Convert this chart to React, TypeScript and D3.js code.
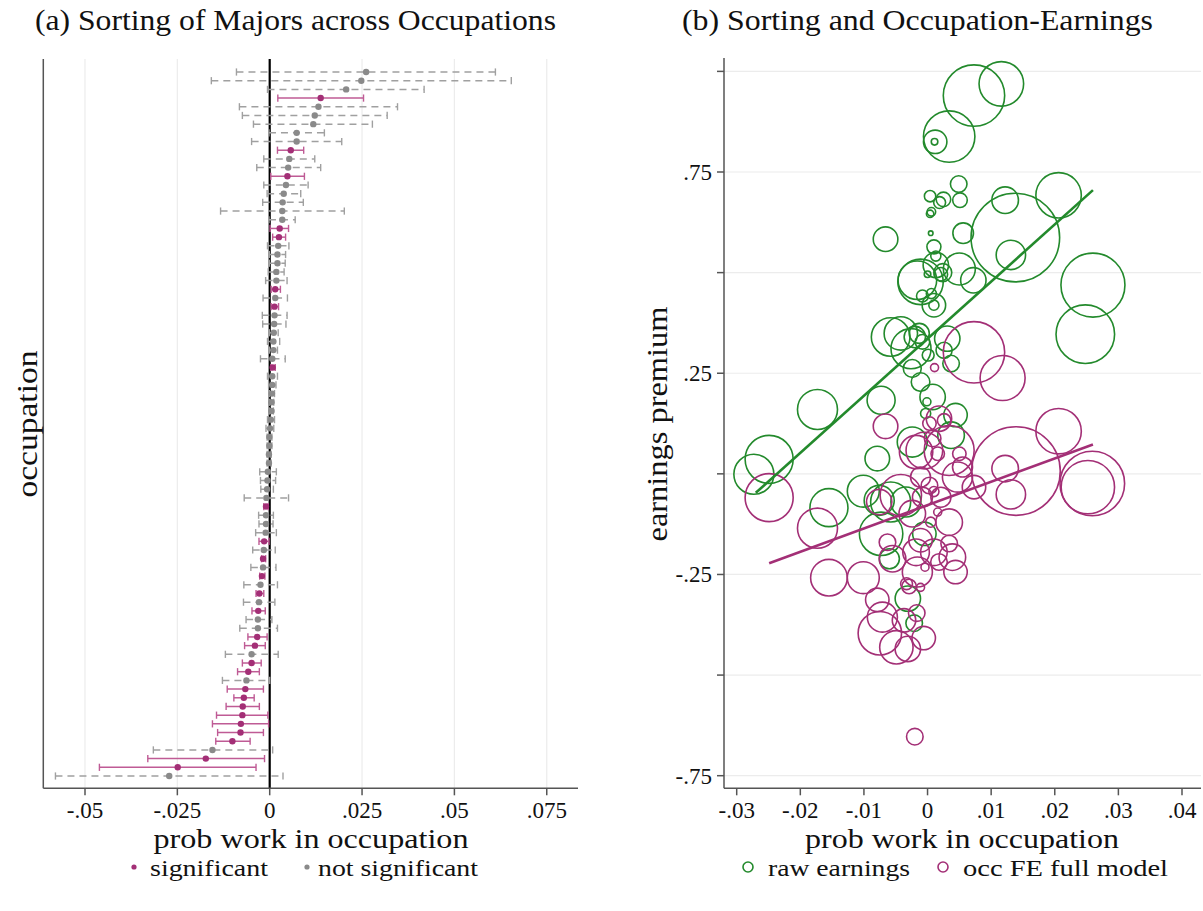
import React from "react";
import * as d3 from "d3";

// ---------- Panel (a) data: occupation coefficients, sorted ----------
const coef = [
  0.0261, 0.0248, 0.0207, 0.0138, 0.0132, 0.0122, 0.0118, 0.0073, 0.0073, 0.0057,
  0.0053, 0.0050, 0.0048, 0.0044, 0.0038, 0.0035, 0.0034, 0.0034, 0.0027, 0.0025,
  0.0023, 0.0021, 0.0021, 0.0018, 0.0018, 0.0015, 0.0015, 0.0013, 0.0013, 0.0012,
  0.0011, 0.0010, 0.0010, 0.0007, 0.0008, 0.0007, 0.0007, 0.0006, 0.0005, 0.0005,
  0.0003, 0.0001, -0.0001, -0.0001, -0.0002, -0.0002, -0.0005, -0.0006, -0.0007, -0.0009,
  -0.0010, -0.0010, -0.0010, -0.0011, -0.0015, -0.0016, -0.0018, -0.0018, -0.0021, -0.0025,
  -0.0028, -0.0029, -0.0031, -0.0032, -0.0032, -0.0034, -0.0040, -0.0049, -0.0049, -0.0058,
  -0.0063, -0.0066, -0.0070, -0.0073, -0.0074, -0.0078, -0.0079, -0.0101, -0.0155, -0.0173,
  -0.0249, -0.0272,
];
const ciLow = [
  -0.0090, -0.0158, -0.0006, 0.0022, -0.0082, -0.0074, -0.0044, -0.0002, -0.0049, 0.0021,
  -0.0016, -0.0035, 0.0003, -0.0016, -0.0007, -0.0019, -0.0133, -0.0002, 0.0001, 0.0008,
  -0.0006, -0.0001, -0.0001, -0.0004, -0.0011, 0.0004, -0.0018, 0.0004, -0.0020, -0.0019,
  -0.0001, -0.0006, -0.0001, -0.0025, 0.0003, -0.0006, -0.0003, -0.0001, -0.0001, -0.0001,
  -0.0006, -0.0010, -0.0007, -0.0007, -0.0007, -0.0007, -0.0027, -0.0025, -0.0024, -0.0069,
  -0.0016, -0.0030, -0.0029, -0.0038, -0.0029, -0.0046, -0.0022, -0.0051, -0.0027, -0.0070,
  -0.0037, -0.0071, -0.0048, -0.0064, -0.0081, -0.0059, -0.0068, -0.0120, -0.0074, -0.0087,
  -0.0128, -0.0115, -0.0097, -0.0118, -0.0144, -0.0155, -0.0141, -0.0146, -0.0315, -0.0330,
  -0.0461, -0.0580,
];
const ciHigh = [
  0.0611, 0.0654, 0.0418, 0.0254, 0.0346, 0.0318, 0.0278, 0.0148, 0.0195, 0.0092,
  0.0122, 0.0138, 0.0094, 0.0104, 0.0084, 0.0091, 0.0202, 0.0069, 0.0051, 0.0043,
  0.0052, 0.0043, 0.0042, 0.0039, 0.0047, 0.0029, 0.0048, 0.0024, 0.0047, 0.0044,
  0.0023, 0.0027, 0.0021, 0.0042, 0.0015, 0.0021, 0.0017, 0.0013, 0.0011, 0.0010,
  0.0013, 0.0011, 0.0006, 0.0006, 0.0004, 0.0004, 0.0018, 0.0016, 0.0010, 0.0051,
  -0.0004, 0.0010, 0.0009, 0.0018, -0.0002, 0.0015, -0.0011, 0.0017, -0.0013, 0.0021,
  -0.0016, 0.0014, -0.0012, 0.0006, 0.0021, -0.0007, -0.0012, 0.0023, -0.0023, -0.0028,
  0.0000, -0.0017, -0.0042, -0.0028, -0.0005, -0.0003, -0.0017, -0.0053, 0.0008, -0.0014,
  -0.0037, 0.0036,
];
const significant = ciLow.map((lo, i) => lo > 0 || ciHigh[i] < 0);

const ticksA = [-0.05, -0.025, 0, 0.025, 0.05, 0.075];

// ---------- Panel (b) data: [prob work in occupation, earnings premium, occupation weight] ----------
const rawEarnings: [number, number, number][] = [
  [0.0260, 0.469, 52.2], [0.0248, 0.347, 43.7], [0.0206, 0.692, 26.3], [0.0138, 0.587, 100],
  [0.0131, 0.544, 11.0], [0.0122, 0.680, 9.0], [0.0116, 0.969, 25.3], [0.0073, 0.940, 48.0],
  [0.0072, 0.481, 8.2], [0.0056, 0.598, 5.4], [0.0051, 0.680, 2.7], [0.0050, 0.509, 13.0],
  [0.0049, 0.720, 3.5], [0.0044, 0.146, 7.0], [0.0037, 0.096, 9.0], [0.0037, 0.274, 3.5],
  [0.0034, 0.838, 33.7], [0.0031, 0.336, 8.2], [0.0026, 0.307, 3.3], [0.0025, 0.682, 2.7],
  [0.0024, 0.500, 4.1], [0.0021, 0.496, 2.3], [0.0019, 0.674, 1.8], [0.0013, 0.519, 8.2],
  [0.0013, 0.541, 1.3], [0.0012, 0.825, 7.0], [0.0011, 0.825, 0.55], [0.0010, 0.564, 2.5],
  [0.0010, 0.419, 7.0], [0.0010, 0.419, 1.3], [0.0008, 0.191, 8.2], [0.0006, 0.448, 1.3],
  [0.0006, 0.651, 0.94], [0.0005, 0.598, 0.27], [0.0004, 0.646, 0.70], [0.0004, 0.690, 1.65],
  [0.0000, 0.496, 0.55], [0.0001, 0.295, 1.8], [-0.0001, 0.179, 0.82], [-0.0003, 0.150, 1.3],
  [-0.0005, -0.149, 7.0], [-0.0008, 0.328, 2.7], [-0.0008, 0.442, 1.8], [-0.0011, 0.477, 26.3],
  [-0.0011, 0.228, 4.4], [-0.0013, 0.349, 5.1], [-0.0016, 0.481, 19.0], [-0.0020, 0.340, 5.8],
  [-0.0021, -0.371, 3.5], [-0.0024, 0.079, 11.5], [-0.0024, 0.262, 4.1], [-0.0026, 0.311, 20.4],
  [-0.0031, -0.310, 8.2], [-0.0034, -0.070, 11.5], [-0.0042, 0.349, 14.2], [-0.0058, 0.340, 19.0],
  [-0.0058, -0.070, 20.4], [-0.0060, -0.211, 5.1], [-0.0066, 0.583, 7.7], [-0.0073, 0.183, 10.0],
  [-0.0073, -0.149, 24.0], [-0.0076, -0.066, 11.5], [-0.0079, 0.038, 7.7], [-0.0101, -0.043, 13.0],
  [-0.0155, -0.084, 18.4], [-0.0173, 0.160, 20.4], [-0.0249, 0.036, 29.4], [-0.0273, -0.001, 20.4],
];
const occFE: [number, number, number][] = [
  [0.0259, -0.024, 53.2], [0.0252, -0.033, 36.3], [0.0206, 0.106, 26.3], [0.0139, 0.007, 100],
  [0.0131, -0.051, 11.0], [0.0122, 0.013, 9.0], [0.0118, 0.238, 25.8], [0.0073, 0.302, 48.0],
  [0.0073, -0.033, 7.0], [0.0055, 0.017, 5.1], [0.0050, 0.050, 2.3], [0.0047, -0.008, 11.5],
  [0.0034, 0.058, 31.8], [0.0034, -0.120, 9.0], [0.0034, -0.173, 3.5], [0.0039, -0.207, 9.0],
  [0.0044, -0.244, 7.0], [0.0021, -0.058, 5.1], [0.0018, -0.219, 3.5], [0.0016, 0.050, 2.3],
  [0.0016, -0.095, 0.82], [0.0018, 0.137, 8.2], [0.0026, 0.133, 2.3], [0.0011, 0.264, 0.82],
  [0.0010, -0.195, 9.0], [0.0008, 0.088, 3.5], [0.0010, -0.044, 1.3], [0.0005, -0.120, 1.3],
  [0.0003, -0.029, 3.5], [0.0003, 0.125, 2.3], [-0.0004, -0.232, 0.82], [-0.0005, 0.058, 17.1],
  [-0.0006, -0.408, 7.0], [-0.0008, -0.058, 5.1], [-0.0011, -0.008, 5.1], [-0.0011, -0.165, 7.0],
  [-0.0011, -0.282, 0.82], [-0.0016, -0.244, 11.5], [-0.0017, -0.346, 3.5], [-0.0018, 0.054, 14.2],
  [-0.0018, -0.195, 9.0], [-0.0020, -0.653, 3.5], [-0.0024, -0.099, 9.0], [-0.0029, -0.280, 2.7],
  [-0.0031, -0.435, 8.2], [-0.0033, -0.273, 1.8], [-0.0037, -0.364, 7.0], [-0.0042, -0.053, 21.8],
  [-0.0049, -0.431, 14.2], [-0.0055, -0.211, 9.0], [-0.0063, -0.170, 3.5], [-0.0066, 0.118, 7.7],
  [-0.0071, -0.356, 11.5], [-0.0075, -0.396, 24.0], [-0.0076, -0.070, 8.2], [-0.0079, -0.313, 7.0],
  [-0.0101, -0.258, 13.0], [-0.0155, -0.258, 17.1], [-0.0173, -0.135, 20.4], [-0.0249, -0.059, 29.4],
];
const fitRaw: [number, number][] = [[-0.0270, -0.047], [0.0260, 0.705]];
const fitFE: [number, number][] = [[-0.0249, -0.222], [0.0260, 0.073]];

const ticksBX = [-0.03, -0.02, -0.01, 0, 0.01, 0.02, 0.03, 0.04];
const ticksBY = [-0.75, -0.5, -0.25, 0, 0.25, 0.5, 0.75, 1];
const labelsBY = [-0.75, -0.25, 0.25, 0.75];

// ---------- styling ----------
const FONT = "'Liberation Serif', 'DejaVu Serif', serif";
const MAGENTA = "#a32f76";
const MAGENTA_CI = "#bf5b95";
const GREY = "#8a8a8a";
const GREY_CI = "#a0a0a0";
const GREEN = "#238a2c";
const GRID = "#ececec";
const AXIS = "#555";
const INK = "#111";

const fmt = (v: number) => {
  if (Math.abs(v) < 1e-12) return "0";
  const s = String(Math.abs(+v.toFixed(4))).replace(/^0/, "");
  return (v < 0 ? "-" : "") + s;
};

type TProps = { x: number; y: number; size: number; len?: number; anchor?: string; rotate?: boolean; children: string };
const T = ({ x, y, size, len, anchor = "start", rotate = false, children }: TProps) => (
  <text
    x={rotate ? 0 : x}
    y={rotate ? 0 : y}
    transform={rotate ? `translate(${x},${y}) rotate(-90)` : undefined}
    fontSize={size}
    textAnchor={anchor}
    fill={INK}
    textLength={len}
    lengthAdjust={len ? "spacingAndGlyphs" : undefined}
  >
    {children}
  </text>
);

export default function App() {
  // panel (a) scales
  const xA = d3.scaleLinear().domain([-0.05, 0]).range([85, 269.7]);
  const yA = d3.scaleLinear().domain([1, 82]).range([72, 776]);
  const aLeft = 43.3, aRight = 578, aTop = 59, aBottom = 788.3;

  // panel (b) scales
  const xB = d3.scaleLinear().domain([-0.03, 0.04]).range([736.7, 1182]);
  const yB = d3.scaleLinear().domain([-0.75, 0.75]).range([775.7, 172]);
  const rB = d3.scaleSqrt().domain([0, 100]).range([0, 44.3]);
  const bLeft = 724, bRight = 1201, bTop = 58, bBottom = 788.3;
  const line = d3.line<[number, number]>().x((d) => xB(d[0])).y((d) => yB(d[1]));

  const cap = 3.6;

  return (
    <svg width={1203} height={911} style={{ position: "absolute", left: 0, top: 0, background: "#fff" }} fontFamily={FONT}>
      <rect x={0} y={0} width={1203} height={911} fill="#fff" />

      {/* ===== Panel (a) ===== */}
      <T x={35} y={30} size={29} len={521}>(a) Sorting of Majors across Occupations</T>
      {ticksA.filter((t) => t !== 0).map((t) => (
        <line key={"ga" + t} x1={xA(t)} x2={xA(t)} y1={aTop} y2={aBottom} stroke={GRID} strokeWidth={1.2} />
      ))}
      <line x1={xA(0)} x2={xA(0)} y1={aTop} y2={aBottom} stroke="#000" strokeWidth={2.2} />
      {coef.map((c, i) => {
        const y = yA(i + 1);
        const sig = significant[i];
        const col = sig ? MAGENTA_CI : GREY_CI;
        return (
          <g key={"ci" + i}>
            <line x1={xA(ciLow[i])} x2={xA(ciHigh[i])} y1={y} y2={y} stroke={col} strokeWidth={1.5}
              strokeDasharray={sig ? undefined : "7,5"} />
            <line x1={xA(ciLow[i])} x2={xA(ciLow[i])} y1={y - cap} y2={y + cap} stroke={col} strokeWidth={1.4} />
            <line x1={xA(ciHigh[i])} x2={xA(ciHigh[i])} y1={y - cap} y2={y + cap} stroke={col} strokeWidth={1.4} />
            <circle cx={xA(c)} cy={y} r={3.2} fill={sig ? MAGENTA : GREY} />
          </g>
        );
      })}
      <line x1={aLeft} x2={aLeft} y1={aTop} y2={aBottom} stroke={AXIS} strokeWidth={1.5} />
      <line x1={aLeft} x2={aRight} y1={aBottom} y2={aBottom} stroke={AXIS} strokeWidth={1.5} />
      {ticksA.map((t) => (
        <g key={"ta" + t}>
          <line x1={xA(t)} x2={xA(t)} y1={aBottom} y2={aBottom + 7} stroke={AXIS} strokeWidth={1.5} />
          <T x={xA(t)} y={818} size={23} anchor="middle">{fmt(t)}</T>
        </g>
      ))}
      <T x={311} y={848} size={28} anchor="middle" len={315}>prob work in occupation</T>
      <T x={37} y={424} size={29} anchor="middle" len={147} rotate>occupation</T>
      <circle cx={134} cy={867} r={2.6} fill={MAGENTA} />
      <T x={150} y={876} size={24} len={118}>significant</T>
      <circle cx={307} cy={867} r={2.6} fill={GREY} />
      <T x={318} y={876} size={24} len={160}>not significant</T>

      {/* ===== Panel (b) ===== */}
      <T x={682} y={30} size={29} len={471}>(b) Sorting and Occupation-Earnings</T>
      {ticksBY.map((t) => (
        <line key={"gb" + t} x1={bLeft} x2={bRight} y1={yB(t)} y2={yB(t)} stroke={GRID} strokeWidth={1.2} />
      ))}
      {rawEarnings.map((d, i) => (
        <circle key={"r" + i} cx={xB(d[0])} cy={yB(d[1])} r={rB(d[2])} fill="none" stroke={GREEN} strokeWidth={1.6} />
      ))}
      {occFE.map((d, i) => (
        <circle key={"f" + i} cx={xB(d[0])} cy={yB(d[1])} r={rB(d[2])} fill="none" stroke={MAGENTA} strokeWidth={1.6} />
      ))}
      <path d={line(fitRaw) || ""} stroke={GREEN} strokeWidth={2.6} fill="none" />
      <path d={line(fitFE) || ""} stroke={MAGENTA} strokeWidth={2.6} fill="none" />
      <line x1={bLeft} x2={bLeft} y1={bTop} y2={bBottom} stroke={AXIS} strokeWidth={1.5} />
      <line x1={bLeft} x2={bRight} y1={bBottom} y2={bBottom} stroke={AXIS} strokeWidth={1.5} />
      {ticksBY.map((t) => (
        <line key={"tby" + t} x1={bLeft - 7} x2={bLeft} y1={yB(t)} y2={yB(t)} stroke={AXIS} strokeWidth={1.5} />
      ))}
      {labelsBY.map((t) => (
        <T key={"lby" + t} x={712} y={yB(t) + 8} size={23} anchor="end">{fmt(t)}</T>
      ))}
      {ticksBX.map((t) => (
        <g key={"tbx" + t}>
          <line x1={xB(t)} x2={xB(t)} y1={bBottom} y2={bBottom + 7} stroke={AXIS} strokeWidth={1.5} />
          <T x={xB(t)} y={818} size={23} anchor="middle">{fmt(t)}</T>
        </g>
      ))}
      <T x={962} y={848} size={28} anchor="middle" len={314}>prob work in occupation</T>
      <T x={667} y={424} size={29} anchor="middle" len={235} rotate>earnings premium</T>
      <circle cx={748} cy={867} r={5} fill="none" stroke={GREEN} strokeWidth={1.6} />
      <T x={768} y={876} size={24} len={142}>raw earnings</T>
      <circle cx={943} cy={867} r={5} fill="none" stroke={MAGENTA} strokeWidth={1.6} />
      <T x={963} y={876} size={24} len={205}>occ FE full model</T>
    </svg>
  );
}
